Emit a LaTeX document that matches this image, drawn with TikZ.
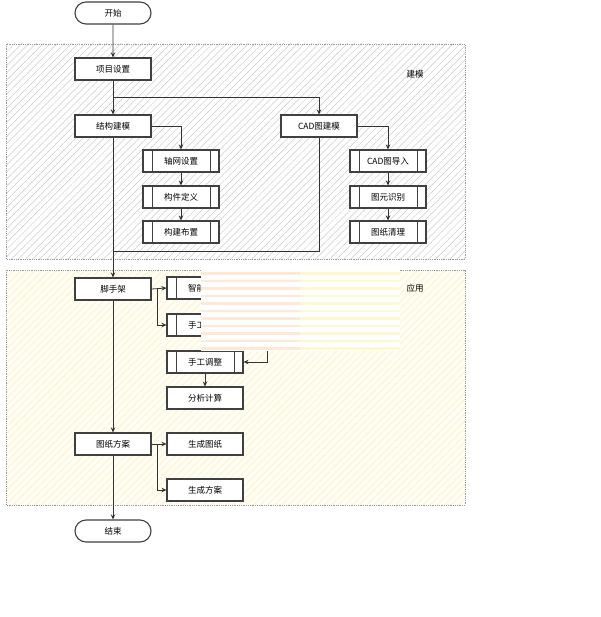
\documentclass[tikz,border=0pt]{standalone}
\usepackage{fontspec}
\setmainfont{Noto Sans CJK SC}
\usetikzlibrary{shapes.misc,patterns.meta,arrows.meta}
\definecolor{peach}{HTML}{FFE8D6}
\definecolor{paleyel}{HTML}{FFF6D2}
\definecolor{grpyel}{HTML}{FFE9A8}
\begin{document}
\begin{tikzpicture}[x=1pt,y=-1pt,
  font=\fontsize{8.5}{10}\selectfont,
  box/.style={draw=black!75,line width=1.1pt,fill=white,minimum width=76pt,minimum height=22pt,inner sep=0pt},
  ppbox/.style={box,path picture={\draw[line width=0.8pt,draw=black!75]
      ([xshift=9pt]path picture bounding box.north west) -- ([xshift=9pt]path picture bounding box.south west)
      ([xshift=-9pt]path picture bounding box.north east) -- ([xshift=-9pt]path picture bounding box.south east);}},
  term/.style={box,rounded rectangle},
  arr/.style={-{Stealth[length=5pt,width=4.5pt]},line width=0.8pt,draw=black!80},
  ln/.style={line width=0.8pt,draw=black!80},
  grp/.style={draw=black!40,densely dotted,line width=0.8pt}]
\useasboundingbox (0,0) rectangle (600,617);
\fill[white] (0,0) rectangle (600,617);

% groups
\fill[white] (6,44) rectangle (465,259);
\path[pattern={Lines[angle=45,distance=5pt,line width=0.5pt]},pattern color=black!20] (6,44) rectangle (465,259);
\draw[grp] (6,44) rectangle (465,259);
\fill[yellow!4] (6,270) rectangle (465,505);
\path[pattern={Lines[angle=45,distance=5pt,line width=0.8pt]},pattern color=grpyel!60] (6,270) rectangle (465,505);
\draw[grp] (6,270) rectangle (465,505);
\node (lblA) at (415,74) {建模};
\node (lblB) at (415,288) {应用};

% nodes
\node[term] (start) at (113,13) {开始};
\node[box] (xmsz) at (113,69) {项目设置};
\node[box] (jgjm) at (113,126) {结构建模};
\node[box] (cadjm) at (319,126) {CAD图建模};
\node[ppbox] (zwsz) at (181,161) {轴网设置};
\node[ppbox] (gjdy) at (181,197) {构件定义};
\node[ppbox] (gjbz) at (181,232) {构建布置};
\node[ppbox] (cadin) at (388,161) {CAD图导入};
\node[ppbox] (tysb) at (388,197) {图元识别};
\node[ppbox] (tzql) at (388,232) {图纸清理};
\node[box] (jsj) at (113,289) {脚手架};
\node[ppbox] (znbz) at (205,288) {智能布置};
\node[ppbox] (sgbz) at (205,325) {手工布置};
\node[ppbox] (sgtz) at (205,362) {手工调整};
\node[box] (fxjs) at (205,398) {分析计算};
\node[box] (tzfa) at (113,444) {图纸方案};
\node[box] (sctz) at (205,444) {生成图纸};
\node[box] (scfa) at (205,490) {生成方案};
\node[term] (end) at (113,531) {结束};

\coordinate (s1) at (113,97);
\coordinate (j1) at (113,251);
\coordinate (b1) at (157,289);
\coordinate (b2) at (157,444);
\coordinate (c1) at (267,351);

% connectors
\draw[arr] (start) -- (xmsz);
\draw[arr] (xmsz) -- (jgjm);
\draw[arr] (s1) -| (cadjm.north);
\draw[arr] (jgjm.east) -| (zwsz.north);
\draw[arr] (zwsz) -- (gjdy);
\draw[arr] (gjdy) -- (gjbz);
\draw[arr] (cadjm.east) -| (cadin.north);
\draw[arr] (cadin) -- (tysb);
\draw[arr] (tysb) -- (tzql);
\draw[ln] (cadjm.south) |- (j1);
\draw[arr] (jgjm) -- (jsj);
\draw[arr] (jsj.east) -- (znbz.west);
\draw[arr] (b1) |- (sgbz.west);
\draw[arr] (sgtz) -- (fxjs);
\draw[arr] (jsj) -- (tzfa);
\draw[arr] (tzfa.east) -- (sctz.west);
\draw[arr] (b2) |- (scfa.west);
\draw[arr] (tzfa) -- (end);

% overlay patch
\fill[white] (201,268) rectangle (400,351);
\foreach \y in {272,279.5,...,347} {
  \fill[peach] (201,\y) rectangle (300,\y+2.5);
  \fill[paleyel] (300,\y) rectangle (400,\y+2.5);
}
\draw[arr] (c1) |- (sgtz.east);
\end{tikzpicture}
\end{document}
